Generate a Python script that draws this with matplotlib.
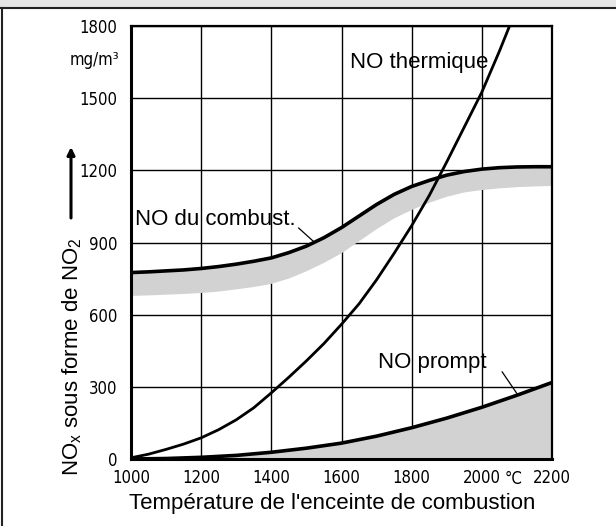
import matplotlib
matplotlib.use("Agg")
import matplotlib.pyplot as plt
from matplotlib.patches import Rectangle
from matplotlib.lines import Line2D

# ---- data ----
temp_thermal = [1000, 1050, 1100, 1150, 1200, 1250, 1300, 1350, 1400, 1450, 1500,
                1550, 1600, 1650, 1700, 1750, 1800, 1850, 1900, 1950, 2000, 2050, 2079]
no_thermal = [5, 20, 40, 62, 88, 122, 163, 213, 275, 340, 408,
              480, 560, 645, 745, 855, 970, 1095, 1235, 1380, 1525, 1695, 1800]

temp_fuel = [1000, 1050, 1100, 1150, 1200, 1250, 1300, 1350, 1400, 1450, 1500, 1550,
             1600, 1650, 1700, 1750, 1800, 1850, 1900, 1950, 2000, 2050, 2100, 2150, 2200]
no_fuel_upper = [775, 778, 782, 786, 792, 800, 810, 822, 836, 858, 885, 920,
                 962, 1010, 1058, 1100, 1133, 1158, 1180, 1195, 1205, 1211, 1214, 1215, 1215]
no_fuel_lower = [678, 680, 683, 686, 690, 696, 705, 715, 728, 750, 780, 815,
                 855, 905, 955, 1000, 1035, 1065, 1090, 1108, 1118, 1125, 1130, 1133, 1135]

temp_prompt = [1000, 1100, 1200, 1300, 1400, 1500, 1600, 1700, 1800, 1900, 2000, 2100, 2200]
no_prompt = [0, 2, 7, 15, 28, 45, 66, 95, 130, 170, 215, 265, 318]

x_ticks = [1000, 1200, 1400, 1600, 1800, 2000, 2200]
y_ticks = [0, 300, 600, 900, 1200, 1500, 1800]

label_thermal = "NO thermique"
label_fuel = "NO du combust."
label_prompt = "NO prompt"
x_label = "Température de l'enceinte de combustion"
y_label = "NO$_\\mathregular{x}$ sous forme de NO$_\\mathregular{2}$"
unit_y = "mg/m³"
unit_x = "°C"

W, H = 616, 526
fig = plt.figure(figsize=(W / 100, H / 100), dpi=100)

# frame decoration (grey strip on top, black border line)
fig.patches.append(Rectangle((0, 1 - 7 / H), 1, 7 / H, transform=fig.transFigure,
                             facecolor="#e6e6e6", edgecolor="none", zorder=0))
fig.lines.append(Line2D([0, 1], [1 - 7.5 / H, 1 - 7.5 / H], transform=fig.transFigure,
                        color="#222222", lw=1.5))
fig.lines.append(Line2D([1.5 / W, 1.5 / W], [0, 1 - 7.5 / H], transform=fig.transFigure,
                        color="#222222", lw=1.5))

ax = fig.add_axes([131 / W, 1 - 459 / H, (552 - 131) / W, (459 - 26) / H])
ax.set_xlim(1000, 2200)
ax.set_ylim(0, 1800)

tick_font = dict(family=["DejaVu Sans"], fontstretch="condensed", fontsize=12)
sans = ["Liberation Sans", "DejaVu Sans"]

ax.set_xticks(x_ticks)
ax.set_yticks(y_ticks)
ax.set_xticklabels([str(v) for v in x_ticks], **tick_font)
ax.set_yticklabels([str(v) for v in y_ticks], **tick_font)
ax.tick_params(length=0, pad=10)
ax.tick_params(axis="x", pad=7)
ax.grid(True, color="black", lw=1.0)
ax.set_axisbelow(True)
for side in ["left", "bottom"]:
    ax.spines[side].set_linewidth(2.2)
for side in ["top", "right"]:
    ax.spines[side].set_linewidth(1.6)

# shaded areas
ax.fill_between(temp_fuel, no_fuel_lower, no_fuel_upper, facecolor="#d2d2d2",
                edgecolor="none", zorder=2)
ax.fill_between(temp_prompt, 0, no_prompt, facecolor="#d2d2d2",
                edgecolor="none", zorder=2)

# curves
ax.plot(temp_fuel, no_fuel_upper, color="black", lw=2.6, zorder=3,
        solid_capstyle="butt")
ax.plot(temp_prompt, no_prompt, color="black", lw=2.6, zorder=3,
        solid_capstyle="butt")
ax.plot(temp_thermal, no_thermal, color="black", lw=2.0, zorder=4, clip_on=True)

# curve labels with leader lines
ax.text(1625, 1650, label_thermal, family=sans, fontsize=16, va="center", ha="left")
ax.text(1012, 994, label_fuel, family=sans, fontsize=16, va="center", ha="left")
ax.plot([1478, 1522], [960, 902], color="black", lw=0.9, zorder=5)
ax.text(1704, 403, label_prompt, family=sans, fontsize=16, va="center", ha="left")
ax.plot([2058, 2100], [362, 272], color="black", lw=0.9, zorder=5)

# unit labels
fig.text(119 / W, 1 - 60 / H, unit_y, fontsize=12, family=["DejaVu Sans"],
         fontstretch="condensed", ha="right", va="center")
fig.text(514 / W, 1 - 479 / H, unit_x, fontsize=12, family=["DejaVu Sans"],
         fontstretch="condensed", ha="center", va="center")

# axis titles
fig.text(332 / W, 1 - 503 / H, x_label, family=sans, fontsize=16, ha="center", va="center")
fig.text(72 / W, 1 - 357 / H, y_label, family=sans, fontsize=16, ha="center", va="center",
         rotation=90)
ax.annotate("", xy=(71 / W, 1 - 147 / H), xytext=(71 / W, 1 - 218 / H),
            xycoords="figure fraction", textcoords="figure fraction",
            arrowprops=dict(arrowstyle="-|>", color="black", lw=2.2,
                            mutation_scale=11, shrinkA=0, shrinkB=0))

fig.savefig("out.png", dpi=100)
